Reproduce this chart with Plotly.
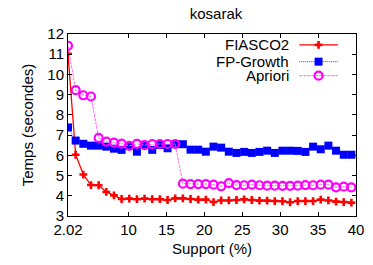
import plotly.graph_objects as go

support = [2.02, 3.03, 4.04, 5.05, 6.06, 7.07, 8.08, 9.09, 10.1, 11.11, 12.12, 13.13,
           14.14, 15.15, 16.16, 17.17, 18.18, 19.19, 20.2, 21.21, 22.22, 23.23, 24.24,
           25.25, 26.26, 27.27, 28.28, 29.29, 30.3, 31.31, 32.32, 33.33, 34.34, 35.35,
           36.36, 37.37, 38.38, 39.39]

fiasco2 = [11.02, 6.03, 5.05, 4.53, 4.52, 4.19, 4.02, 3.84, 3.86, 3.83, 3.86, 3.83,
           3.83, 3.79, 3.87, 3.87, 3.84, 3.81, 3.81, 3.69, 3.77, 3.77, 3.79, 3.82,
           3.79, 3.76, 3.76, 3.74, 3.73, 3.68, 3.74, 3.74, 3.74, 3.81, 3.77, 3.71,
           3.69, 3.66]

fpgrowth = [7.38, 6.73, 6.57, 6.48, 6.48, 6.43, 6.33, 6.27, 6.46, 6.18, 6.51, 6.27,
            6.51, 6.35, 6.55, 6.55, 6.28, 6.28, 6.18, 6.43, 6.38, 6.18, 6.12, 6.17,
            6.12, 6.17, 6.23, 6.12, 6.23, 6.23, 6.22, 6.17, 6.43, 6.3, 6.48, 6.23,
            6.03, 6.03]

apriori = [11.42, 9.22, 8.97, 8.91, 6.86, 6.68, 6.63, 6.58, 6.47, 6.57, 6.5, 6.55,
           6.56, 6.56, 6.56, 4.6, 4.58, 4.58, 4.58, 4.55, 4.47, 4.63, 4.53, 4.52,
           4.55, 4.52, 4.5, 4.5, 4.49, 4.49, 4.5, 4.53, 4.52, 4.55, 4.55, 4.42,
           4.45, 4.42]

series_names = ["FIASCO2", "FP-Growth", "Apriori"]
x_tickvals = [2.02, 10, 15, 20, 25, 30, 35, 40]
x_ticktext = ["2.02", "10", "15", "20", "25", "30", "35", "40"]
y_tickvals = [3, 4, 5, 6, 7, 8, 9, 10, 11, 12]

FONT = "Liberation Sans, Arial, sans-serif"

styles = [
    dict(line=dict(color="#ff0000", width=1.3, dash="solid"),
         marker=dict(symbol="cross", size=6.5, color="#ff0000")),
    dict(line=dict(color="#3a3aff", width=1, dash="1px,1px"),
         marker=dict(symbol="square", size=8, color="#0000ff")),
    dict(line=dict(color="#ff66ff", width=1, dash="3px,1px"),
         marker=dict(symbol="circle-open", size=8, color="#ff00ff",
                     line=dict(width=2.2, color="#ff00ff"))),
]

fig = go.Figure()
for name, ys, st in zip(series_names, [fiasco2, fpgrowth, apriori], styles):
    fig.add_trace(go.Scatter(x=support, y=ys, mode="lines+markers", name=name,
                             line=st["line"], marker=st["marker"], showlegend=False))

# Legend (gnuplot style: text right-aligned, sample on its right)
leg_y = [0.94, 0.848, 0.771]
for name, ly, st in zip(series_names, leg_y, styles):
    fig.add_trace(go.Scatter(x=[0.803, 0.937], y=[ly, ly], mode="lines",
                             line=st["line"], xaxis="x2", yaxis="y2",
                             showlegend=False, hoverinfo="skip"))
    fig.add_trace(go.Scatter(x=[0.87], y=[ly], mode="markers",
                             marker=st["marker"], xaxis="x2", yaxis="y2",
                             showlegend=False, hoverinfo="skip"))
    fig.add_annotation(x=0.772, y=ly, xref="x2", yref="y2", text=name,
                       showarrow=False, xanchor="right", yanchor="middle",
                       borderpad=0,
                       font=dict(family=FONT, size=15, color="black"))

# page body has an 8px margin: size the figure so the plot lands where it should
fig.update_layout(
    width=365, height=257,
    margin=dict(l=60, r=9, t=26, b=49),
    paper_bgcolor="white", plot_bgcolor="white",
    font=dict(family=FONT, size=15, color="black"),
    title=dict(text="kosarak", x=0.570, xanchor="center", y=0.976, yanchor="middle",
               font=dict(family=FONT, size=15, color="black")),
    xaxis=dict(range=[2.02, 40], tickvals=x_tickvals, ticktext=x_ticktext,
               showgrid=False, zeroline=False, showline=True, linecolor="black",
               linewidth=1, mirror="ticks", ticks="inside", ticklen=4,
               tickcolor="black",
               title=dict(text="Support (%)", standoff=6,
                          font=dict(family=FONT, size=15))),
    yaxis=dict(range=[3, 12], tickvals=y_tickvals,
               showgrid=False, zeroline=False, showline=True, linecolor="black",
               linewidth=1, mirror="ticks", ticks="inside", ticklen=4,
               tickcolor="black",
               title=dict(text="Temps (secondes)", standoff=10,
                          font=dict(family=FONT, size=15))),
    xaxis2=dict(range=[0, 1], overlaying="x", visible=False, fixedrange=True),
    yaxis2=dict(range=[0, 1], overlaying="y", visible=False, fixedrange=True),
)

fig.write_html("out.html")
